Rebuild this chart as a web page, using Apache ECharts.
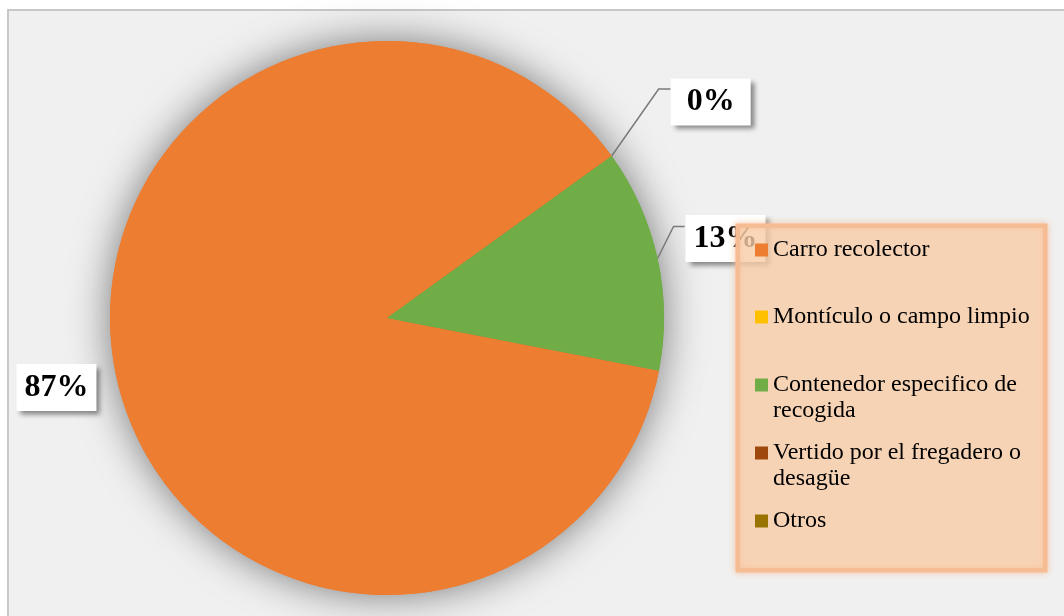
<!DOCTYPE html>
<html>
<head>
<meta charset="utf-8">
<script src="https://cdn.jsdelivr.net/npm/echarts@6/dist/echarts.min.js"></script>
<style>
  html, body { margin: 0; background: #fff; }
  #grafico { width: 1064px; height: 616px; }
</style>
</head>
<body>
<div id="grafico"></div>
<script>
  // datos
  var categorias = ['Carro recolector', 'Montículo o campo limpio', 'Contenedor especifico de recogida',
    'Vertido por el fregadero o desagüe', 'Otros'];
  var valores = [87, 0, 13, 0, 0];
  var colores = ['#ED7D31', '#FFC000', '#70AD47', '#9E480E', '#997300'];
  // renglones de la leyenda como se parten en el original
  var lineasLeyenda = [
    ['Carro recolector'],
    ['Montículo o campo limpio'],
    ['Contenedor especifico de', 'recogida'],
    ['Vertido por el fregadero o', 'desagüe'],
    ['Otros']
  ];
  var conEtiqueta = [true, true, true, false, false];

  var fuente = "'Liberation Serif', 'Times New Roman', serif";
  var centro = [387, 318];
  var radio = 277;
  var topLeyenda = [237, 304, 346, 414, 508];

  // desplazamiento de cada etiqueta respecto al punto del borde del sector
  var ajuste = {
    0: {caja: [-60, 10]},
    1: {codo: [47, -67], tramo: 12, caja: [99, -54]},
    2: {codo: [16, -32], tramo: 11, caja: [68, -20]}
  };

  var datos = categorias.map(function (n, i) {
    return {
      name: n,
      value: valores[i],
      itemStyle: {color: colores[i]},
      label: {show: conEtiqueta[i]},
      labelLine: {show: conEtiqueta[i] && i !== 0}
    };
  });

  var myChart = echarts.init(document.getElementById('grafico'));
  myChart.setOption({
    animation: false,
    graphic: [
      {
        type: 'rect', z: 0, silent: true,
        shape: {x: 8, y: 10, width: 1090, height: 640},
        style: {fill: '#F0F0F0', stroke: '#C8C8C8', lineWidth: 2}
      },
      {
        // borde con resplandor del cuadro de leyenda
        type: 'rect', z: 10, silent: true,
        shape: {x: 738, y: 226, width: 307, height: 344},
        style: {fill: null, stroke: '#F6BC94', lineWidth: 5, shadowBlur: 6, shadowColor: '#F6BC94'}
      },
      {
        type: 'rect', z: 11, silent: true,
        shape: {x: 740.5, y: 228.5, width: 302, height: 339},
        style: {fill: 'rgba(249,204,166,0.8)'}
      }
    ],
    legend: categorias.map(function (nombre, i) {
      return {
        data: [nombre],
        left: 755,
        top: topLeyenda[i],
        orient: 'vertical',
        padding: 0,
        itemWidth: 13,
        itemHeight: 13,
        icon: 'rect',
        z: 20,
        selectedMode: false,
        textStyle: {fontFamily: fuente, fontSize: 24, lineHeight: 26, color: '#000'},
        formatter: function () {
          var l = lineasLeyenda[i];
          return l.length > 1 ? '\n' + l.join('\n') : l[0];
        }
      };
    }),
    series: [
      {
        type: 'pie',
        z: 2,
        center: centro,
        radius: radio,
        startAngle: -11,
        avoidLabelOverlap: false,
        data: datos,
        itemStyle: {borderWidth: 0},
        emphasis: {disabled: true},
        label: {
          position: 'outside',
          formatter: function (p) { return Math.round(p.percent) + '%'; },
          fontFamily: fuente,
          fontSize: 32,
          fontWeight: 'bold',
          lineHeight: 33,
          color: '#000',
          backgroundColor: '#fff',
          width: 64,
          overflow: 'none',
          padding: [7, 8],
          shadowColor: 'rgba(0,0,0,0.45)',
          shadowBlur: 5,
          shadowOffsetX: 4,
          shadowOffsetY: 4
        },
        labelLine: {lineStyle: {color: '#7A7A7A', width: 1.5}},
        labelLayout: function (p) {
          var aj = ajuste[p.dataIndex];
          if (!aj || !p.labelLinePoints) return {};
          var a = p.labelLinePoints[0];
          var res = {x: a[0] + aj.caja[0], y: a[1] + aj.caja[1], align: 'center', verticalAlign: 'middle'};
          if (aj.codo) {
            var codo = [a[0] + aj.codo[0], a[1] + aj.codo[1]];
            res.labelLinePoints = [a, codo, [codo[0] + aj.tramo, codo[1]]];
          }
          return res;
        }
      },
      {
        // copia para la sombra difusa alrededor de la torta
        type: 'pie',
        z: 1,
        center: centro,
        radius: radio,
        startAngle: -11,
        emphasis: {disabled: true},
        data: datos.map(function (d) {
          return {
            name: d.name, value: d.value,
            itemStyle: {color: d.itemStyle.color, shadowBlur: 40, shadowColor: 'rgba(0,0,0,0.5)'}
          };
        }),
        label: {show: false},
        labelLine: {show: false}
      }
    ]
  });
</script>
</body>
</html>
